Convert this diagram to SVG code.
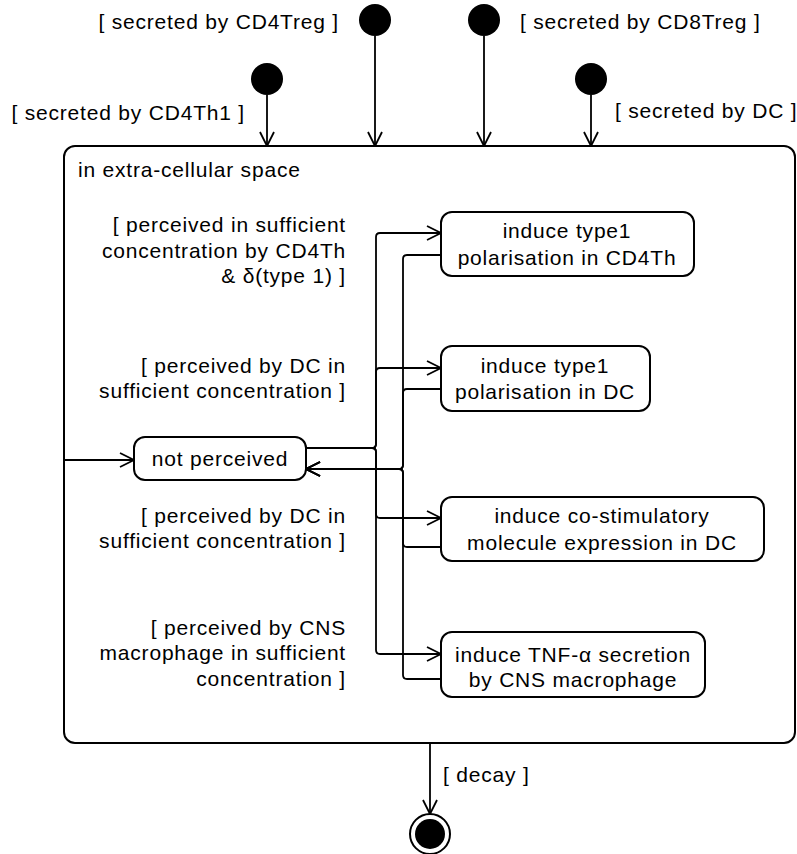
<svg xmlns="http://www.w3.org/2000/svg" width="797" height="854" viewBox="0 0 797 854">
<style>
text{font-family:"Liberation Sans",Arial,sans-serif;font-size:21px;letter-spacing:0.8px;fill:#000}
.e{text-anchor:end}
.m{text-anchor:middle}
.box{fill:#fff;stroke:#000;stroke-width:2}
.ln{fill:none;stroke:#000;stroke-width:1.8}
.dot{fill:#000}
</style>
<defs>
<marker id="arr" viewBox="0 0 16 16" refX="15" refY="8" markerWidth="16" markerHeight="16" orient="auto" markerUnits="userSpaceOnUse">
<path d="M1,1 L15,8 L1,15" fill="none" stroke="#000" stroke-width="1.8"/>
</marker>
</defs>
<g id="outer">
<rect class="box" x="64" y="146" width="731" height="597" rx="11"/>
<text x="78" y="177">in extra-cellular space</text>
</g>
<g id="start-cd4treg"><circle class="dot" cx="375" cy="20" r="16"/><text class="e" x="339" y="29">[ secreted by CD4Treg ]</text></g>
<g id="start-cd8treg"><circle class="dot" cx="484" cy="20" r="16"/><text x="520" y="29">[ secreted by CD8Treg ]</text></g>
<g id="start-cd4th1"><circle class="dot" cx="267" cy="79" r="16"/><text class="e" x="245" y="120">[ secreted by CD4Th1 ]</text></g>
<g id="start-dc"><circle class="dot" cx="591" cy="79" r="16"/><text x="615" y="118">[ secreted by DC ]</text></g>
<g id="not-perceived">
<rect class="box" x="134" y="437" width="172" height="43" rx="11"/>
<text class="m" x="220" y="466">not perceived</text>
</g>
<g id="induce-cd4th">
<rect class="box" x="441" y="212" width="253" height="64" rx="11"/>
<text class="m" x="567" y="238">induce type1</text>
<text class="m" x="567" y="265">polarisation in CD4Th</text>
</g>
<g id="induce-dc">
<rect class="box" x="441" y="346" width="209" height="65" rx="11"/>
<text class="m" x="545" y="373">induce type1</text>
<text class="m" x="545" y="399">polarisation in DC</text>
</g>
<g id="induce-costim">
<rect class="box" x="441" y="497" width="323" height="64" rx="11"/>
<text class="m" x="602" y="523">induce co-stimulatory</text>
<text class="m" x="602" y="550">molecule expression in DC</text>
</g>
<g id="induce-tnf">
<rect class="box" x="441" y="632" width="264" height="65" rx="11"/>
<text class="m" x="573" y="662">induce TNF-α secretion</text>
<text class="m" x="573" y="687">by CNS macrophage</text>
</g>
<g id="final">
<circle cx="430" cy="834" r="20" fill="#fff" stroke="#000" stroke-width="2"/>
<circle class="dot" cx="430" cy="834" r="15"/>
</g>
<g id="connectors">
<path class="ln" marker-end="url(#arr)" d="M375,36 V146"/>
<path class="ln" marker-end="url(#arr)" d="M484,36 V146"/>
<path class="ln" marker-end="url(#arr)" d="M267,95 V146"/>
<path class="ln" marker-end="url(#arr)" d="M591,95 V146"/>
<path class="ln" marker-end="url(#arr)" d="M64,460 H134"/>
<path class="ln" marker-end="url(#arr)" d="M306,448 H372 Q376,448 376,444 V237 Q376,233 380,233 H441"/>
<path class="ln" marker-end="url(#arr)" d="M306,448 H372 Q376,448 376,444 V372 Q376,368 380,368 H441"/>
<path class="ln" marker-end="url(#arr)" d="M306,448 H372 Q376,448 376,452 V514 Q376,518 380,518 H441"/>
<path class="ln" marker-end="url(#arr)" d="M306,448 H372 Q376,448 376,452 V650 Q376,654 380,654 H441"/>
<path class="ln" marker-end="url(#arr)" d="M441,255 H407 Q403,255 403,259 V465 Q403,469 399,469 H306"/>
<path class="ln" marker-end="url(#arr)" d="M441,389 H407 Q403,389 403,393 V465 Q403,469 399,469 H306"/>
<path class="ln" marker-end="url(#arr)" d="M441,547 H407 Q403,547 403,543 V473 Q403,469 399,469 H306"/>
<path class="ln" marker-end="url(#arr)" d="M441,679 H407 Q403,679 403,675 V473 Q403,469 399,469 H306"/>
<path class="ln" marker-end="url(#arr)" d="M430,743 V814"/>
</g>
<g id="labels">
<text class="e" x="346" y="232">[ perceived in sufficient</text>
<text class="e" x="346" y="258">concentration by CD4Th</text>
<text class="e" x="346" y="283">&amp; δ(type 1) ]</text>
<text class="e" x="346" y="373">[ perceived by DC in</text>
<text class="e" x="346" y="398">sufficient concentration ]</text>
<text class="e" x="346" y="523">[ perceived by DC in</text>
<text class="e" x="346" y="548">sufficient concentration ]</text>
<text class="e" x="346" y="635">[ perceived by CNS</text>
<text class="e" x="346" y="660">macrophage in sufficient</text>
<text class="e" x="346" y="686">concentration ]</text>
<text x="443" y="782">[ decay ]</text>
</g>
</svg>
